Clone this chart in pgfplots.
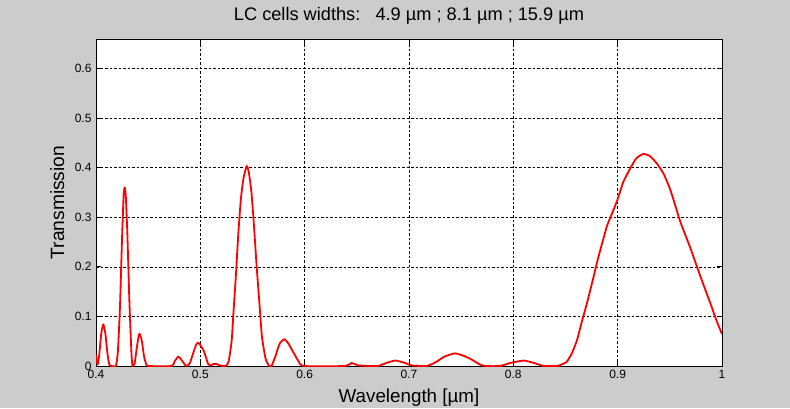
\documentclass[border=0pt]{standalone}
\usepackage{pgfplots}
\pgfplotsset{compat=1.18}
\usepackage{fontspec}
\setmainfont{Liberation Sans}
\definecolor{figgray}{gray}{0.8}
\begin{document}
\begin{tikzpicture}[x=1pt,y=1pt]
\fill[figgray] (0,0) rectangle (790,408);
\useasboundingbox (0,0) rectangle (790,408);
\begin{axis}[
  at={(96pt,42pt)}, anchor=south west,
  scale only axis, width=626pt, height=327pt,
  xmin=0.4, xmax=1, ymin=0, ymax=0.659,
  axis background/.style={fill=white},
  axis line style={black, line width=0.6pt},
  xtick={0.4,0.5,0.6,0.7,0.8,0.9,1},
  xticklabels={0.4,0.5,0.6,0.7,0.8,0.9,1},
  ytick={0,0.1,0.2,0.3,0.4,0.5,0.6},
  yticklabels={0,0.1,0.2,0.3,0.4,0.5,0.6},
  tick align=inside, major tick length=5pt,
  tick style={black, line width=0.6pt},
  tick label style={font=\fontsize{12}{14}\selectfont},
  xticklabel style={yshift=-1pt},
  yticklabel style={xshift=-1pt},
  xmajorgrids, ymajorgrids,
  major grid style={black, line width=0.5pt, dash pattern=on 2.5pt off 2pt},
  title={LC cells widths:\ \ \ 4.9 µm ; 8.1 µm ; 15.9 µm},
  title style={font=\fontsize{18.2}{20}\selectfont, at={(axis description cs:0.5,1)}, anchor=base, yshift=13pt},
  xlabel={Wavelength [µm]},
  xlabel style={font=\fontsize{18.8}{20}\selectfont, at={(axis description cs:0.5,0)}, anchor=base, yshift=-36pt},
  ylabel={Transmission},
  ylabel style={font=\fontsize{19.2}{20}\selectfont, at={(axis description cs:-0.0511,0.5)}, anchor=base, rotate=0},
]
% transmission spectrum of the stacked LC cells
\addplot[red, line width=1.8pt, line join=round, smooth, tension=0.3] coordinates {
(0.400,0.022) (0.4015,0.003) (0.403,0.020) (0.405,0.065) (0.407,0.084)
(0.409,0.065) (0.411,0.025) (0.413,0.002) (0.419,0.000)
(0.421,0.030) (0.423,0.120) (0.425,0.260) (0.4265,0.345) (0.4275,0.360)
(0.4285,0.345) (0.430,0.270) (0.432,0.130) (0.434,0.025) (0.435,0.000)
(0.437,0.005) (0.439,0.035) (0.441,0.062) (0.442,0.0645) (0.444,0.050)
(0.446,0.020) (0.448,0.004) (0.450,0.000) (0.4726,0.000)
(0.4755,0.010) (0.479,0.019) (0.482,0.012) (0.4855,0.002) (0.487,0.000)
(0.490,0.006) (0.493,0.025) (0.496,0.043) (0.498,0.047) (0.500,0.042)
(0.503,0.032) (0.505,0.020) (0.5075,0.004) (0.510,0.001) (0.5125,0.004)
(0.5155,0.004) (0.519,0.001) (0.524,0.000)
(0.527,0.008) (0.530,0.050) (0.5317,0.106) (0.534,0.180) (0.5365,0.270)
(0.539,0.340) (0.5415,0.380) (0.5445,0.403) (0.5465,0.390) (0.549,0.350)
(0.5515,0.280) (0.554,0.200) (0.5565,0.130) (0.559,0.060) (0.5625,0.015)
(0.566,0.000) (0.5685,0.001) (0.572,0.020) (0.576,0.045) (0.5805,0.054)
(0.5845,0.045) (0.589,0.028) (0.594,0.010) (0.599,0.000)
(0.638,0.000) (0.645,0.006) (0.652,0.001) (0.670,0.000) (0.678,0.006)
(0.6867,0.011) (0.695,0.007) (0.703,0.001) (0.717,0.000) (0.725,0.007)
(0.734,0.019) (0.744,0.0255) (0.753,0.020) (0.760,0.013) (0.767,0.004)
(0.773,0.000) (0.787,0.000) (0.797,0.006) (0.8097,0.011) (0.820,0.006)
(0.829,0.000) (0.842,0.000) (0.846,0.003) (0.851,0.008) (0.856,0.025)
(0.861,0.052) (0.8655,0.088) (0.8705,0.126) (0.876,0.172) (0.8816,0.220)
(0.8896,0.281) (0.896,0.3145) (0.8998,0.335) (0.9056,0.372) (0.912,0.398)
(0.918,0.419) (0.9247,0.4274) (0.931,0.423) (0.9376,0.408) (0.9439,0.388)
(0.950,0.358) (0.955,0.325) (0.960,0.291) (0.9698,0.237) (0.9794,0.180)
(0.9889,0.126) (0.995,0.090) (1.000,0.0645)
};
\end{axis}
\end{tikzpicture}
\end{document}
